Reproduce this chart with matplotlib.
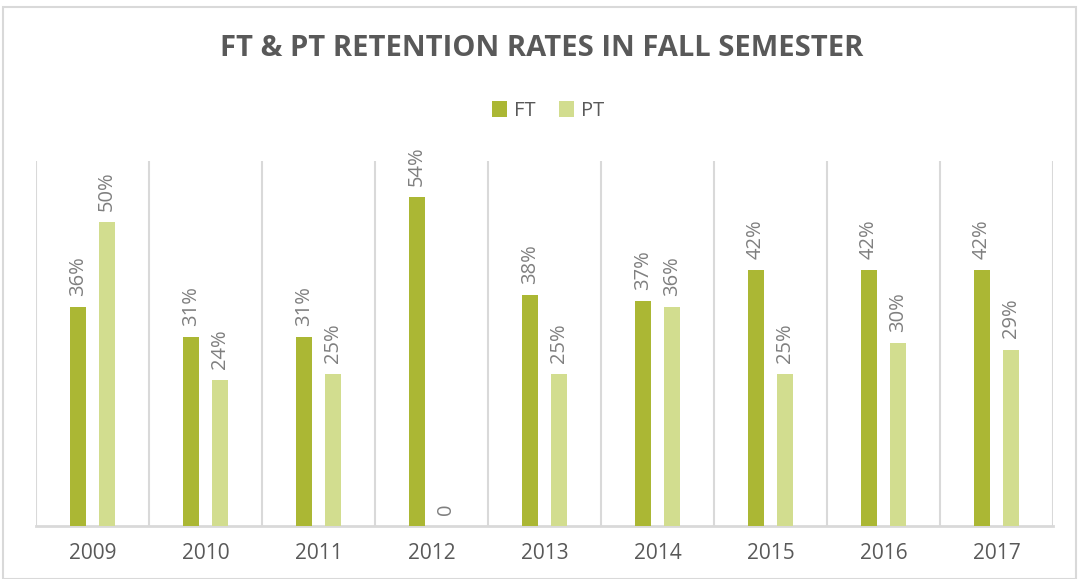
import numpy as np
import matplotlib.pyplot as plt
from matplotlib.patches import Rectangle

years = ['2009', '2010', '2011', '2012', '2013', '2014', '2015', '2016', '2017']
ft = [0.36, 0.31, 0.31, 0.54, 0.38, 0.37, 0.42, 0.42, 0.42]
pt = [0.50, 0.24, 0.25, 0.0, 0.25, 0.36, 0.25, 0.30, 0.29]
pt_labels = ['50%', '24%', '25%', '0', '25%', '36%', '25%', '30%', '29%']
ft_labels = ['36%', '31%', '31%', '54%', '38%', '37%', '42%', '42%', '42%']

ft_color = '#ABB734'
pt_color = '#D2DD8F'
text_gray = '#595959'
label_gray = '#7F7F7F'
grid_gray = '#D9D9D9'

plt.rcParams['font.family'] = ['Open Sans', 'DejaVu Sans']

fig = plt.figure(figsize=(10.79, 5.79), dpi=100)
fig.patches.append(Rectangle((0.003, 0.0), 0.994, 0.988, transform=fig.transFigure,
                             fill=False, edgecolor=grid_gray, linewidth=1.5))
ax = fig.add_axes([0.0334, 0.0915, 0.9426, 0.6305])

x = np.arange(len(years))
w = 0.14
off = 0.13
b1 = ax.bar(x - off, ft, w, color=ft_color, label='FT', zorder=3)
b2 = ax.bar(x + off, pt, w, color=pt_color, label='PT', zorder=3)

for rect, lab in zip(b1, ft_labels):
    ax.annotate(lab, (rect.get_x() + rect.get_width() / 2, rect.get_height()),
                xytext=(0, 8), textcoords='offset points', rotation=90,
                ha='center', va='bottom', fontsize=14.5, color=label_gray)
for rect, lab in zip(b2, pt_labels):
    ax.annotate(lab, (rect.get_x() + rect.get_width() / 2, rect.get_height()),
                xytext=(0, 8), textcoords='offset points', rotation=90,
                ha='center', va='bottom', fontsize=14.5, color=label_gray)

ax.set_xlim(-0.5, len(years) - 0.5)
ax.set_ylim(0, 0.6)
for g in np.arange(-0.5, len(years), 1.0):
    ax.axvline(g, color=grid_gray, linewidth=1.5, zorder=1)

ax.set_xticks(x)
ax.set_xticklabels(years, fontsize=15, color=text_gray)
ax.tick_params(axis='x', length=0, pad=12)
ax.set_yticks([])
for s in ['top', 'right', 'left']:
    ax.spines[s].set_visible(False)
ax.spines['bottom'].set_color(grid_gray)
ax.spines['bottom'].set_linewidth(2)

fig.text(0.502, 0.916, 'FT & PT RETENTION RATES IN FALL SEMESTER', ha='center', va='center',
         fontsize=21, fontweight='bold', color=text_gray)
fig.legend(handles=[b1, b2], loc='center', bbox_to_anchor=(0.508, 0.808), ncol=2,
           frameon=False, fontsize=14.5, labelcolor=text_gray, handlelength=0.7,
           handleheight=0.85, handletextpad=0.35, columnspacing=1.2)

fig.savefig('out.png', dpi=100)
